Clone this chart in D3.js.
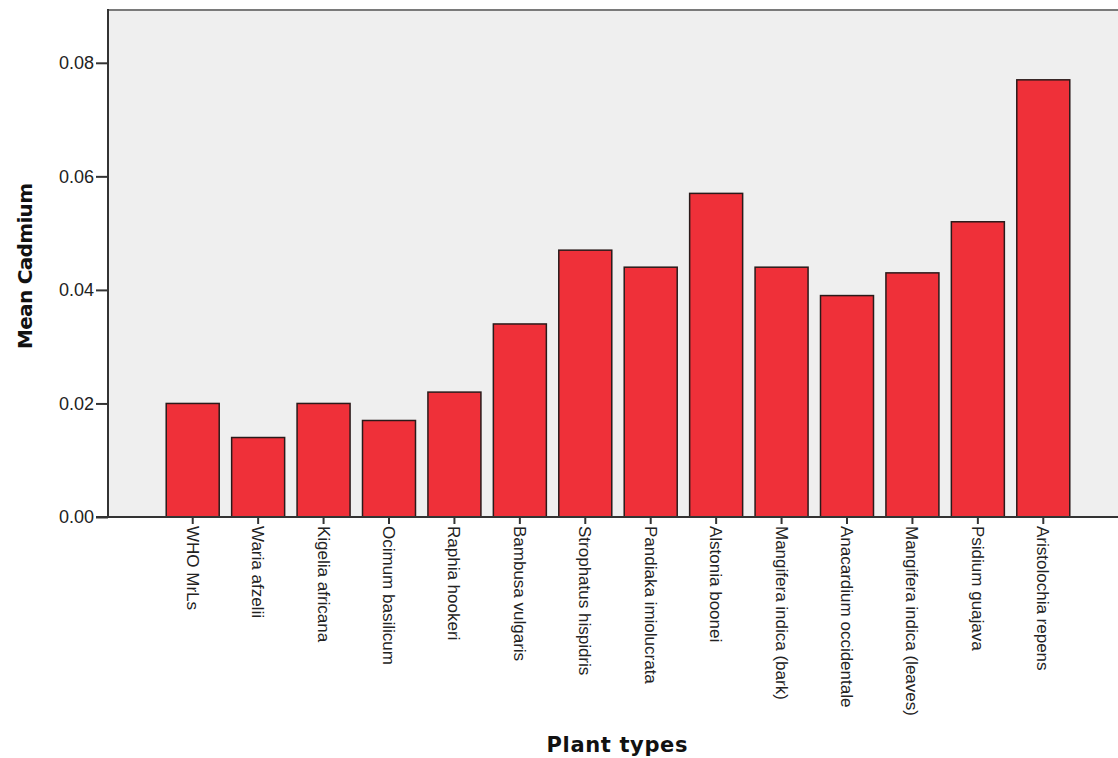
<!DOCTYPE html>
<html>
<head>
<meta charset="utf-8">
<script src="https://cdn.jsdelivr.net/npm/d3@7"></script>
<style>
  html, body { margin: 0; padding: 0; background: #fff; }
  svg { display: block; }
</style>
</head>
<body>
<svg id="chart" width="1118" height="758"></svg>
<script>
const categories = [
  "WHO MrLs", "Waria afzelii", "Kigelia africana", "Ocimum basilicum",
  "Raphia hookeri", "Bambusa vulgaris", "Strophatus hispidris",
  "Pandiaka imiolucrata", "Alstonia boonei", "Mangifera indica (bark)",
  "Anacardium occidentale", "Mangifera indica (leaves)", "Psidium guajava",
  "Aristolochia repens"
];
const meanCadmium = [0.020, 0.014, 0.020, 0.017, 0.022, 0.034, 0.047, 0.044, 0.057, 0.044, 0.039, 0.043, 0.052, 0.077];
const yTicks = [0.00, 0.02, 0.04, 0.06, 0.08];
const yTitle = "Mean Cadmium";
const xTitle = "Plant types";

const svg = d3.select("#chart");
const plotLeft = 108, plotTop = 10, plotBottom = 517, plotRight = 1125;

const y = d3.scaleLinear().domain([0, 0.0893]).range([plotBottom, plotTop]);
const x = d3.scaleBand().domain(categories).range([160, 1076]).paddingInner(0.19).paddingOuter(0.095);

// plot background
svg.append("rect")
  .attr("x", plotLeft).attr("y", plotTop)
  .attr("width", plotRight - plotLeft).attr("height", plotBottom - plotTop)
  .attr("fill", "#efefef");
svg.append("line")
  .attr("x1", plotLeft).attr("x2", plotRight)
  .attr("y1", plotTop).attr("y2", plotTop)
  .attr("stroke", "#7a7a7a").attr("stroke-width", 2);

// bars
svg.append("g").selectAll("rect")
  .data(categories)
  .join("rect")
  .attr("x", d => x(d))
  .attr("width", x.bandwidth())
  .attr("y", (d, i) => y(meanCadmium[i]))
  .attr("height", (d, i) => plotBottom - y(meanCadmium[i]))
  .attr("fill", "#ef3039")
  .attr("stroke", "#2a1a1a")
  .attr("stroke-width", 1.5);

// y axis
const yAxis = d3.axisLeft(y).tickValues(yTicks).tickFormat(d3.format(".2f")).tickSize(12).tickPadding(2);
const gy = svg.append("g").attr("transform", `translate(${plotLeft},0)`).call(yAxis);
gy.attr("font-size", null).attr("font-family", null);
gy.select(".domain").remove();
gy.append("line").attr("x1", 0).attr("x2", 0).attr("y1", plotTop - 1).attr("y2", plotBottom)
  .attr("stroke", "#333").attr("stroke-width", 2);
gy.selectAll(".tick line").attr("stroke", "#333").attr("stroke-width", 2);
gy.selectAll(".tick text")
  .style("font-family", "'Liberation Sans', Arial, sans-serif")
  .style("font-size", "18px").attr("fill", "#222");

// x axis
const xAxis = d3.axisBottom(x).tickSize(7).tickPadding(3);
const gx = svg.append("g").attr("transform", `translate(0,${plotBottom})`).call(xAxis);
gx.attr("font-size", null).attr("font-family", null);
gx.select(".domain").remove();
gx.append("line").attr("x1", 96).attr("x2", plotRight).attr("y1", 0).attr("y2", 0)
  .attr("stroke", "#333").attr("stroke-width", 2);
gx.selectAll(".tick line").attr("stroke", "#333").attr("stroke-width", 2);
gx.selectAll(".tick text")
  .style("font-family", "'Liberation Sans', Arial, sans-serif")
  .style("font-size", "17px").attr("fill", "#222")
  .attr("transform", "rotate(90)")
  .attr("text-anchor", "start")
  .attr("dy", "0.35em")
  .attr("x", 9).attr("y", 0);

// titles
svg.append("text")
  .attr("x", 617).attr("y", 752)
  .attr("text-anchor", "middle")
  .style("font-family", "'DejaVu Sans', Verdana, sans-serif")
  .style("font-weight", "bold").style("font-size", "21px").attr("fill", "#111")
  .attr("textLength", 141).attr("lengthAdjust", "spacing")
  .text(xTitle);
svg.append("text")
  .attr("transform", "translate(32,266) rotate(-90)")
  .attr("text-anchor", "middle")
  .style("font-family", "'DejaVu Sans', Verdana, sans-serif")
  .style("font-weight", "bold").style("font-size", "20px").attr("fill", "#111")
  .attr("textLength", 166).attr("lengthAdjust", "spacing")
  .text(yTitle);
</script>
</body>
</html>
